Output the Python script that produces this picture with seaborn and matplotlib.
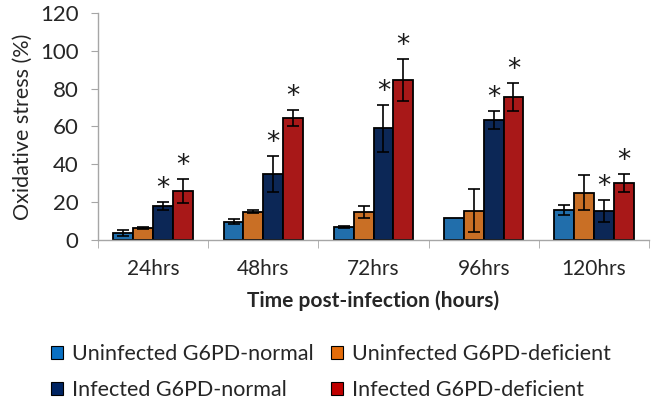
import pandas as pd
import matplotlib
matplotlib.use("Agg")
import matplotlib.pyplot as plt
import seaborn as sns
from matplotlib.patches import Patch

# datos
tiempos = ['24hrs', '48hrs', '72hrs', '96hrs', '120hrs']
grupos = ['Uninfected G6PD-normal', 'Uninfected G6PD-deficient',
          'Infected G6PD-normal', 'Infected G6PD-deficient']

unif_normal = [3.7, 9.7, 7.0, 11.8, 15.9]
unif_defic = [6.5, 15.0, 14.8, 15.5, 25.0]
inf_normal = [18.1, 34.7, 59.0, 63.5, 15.3]
inf_defic = [26.0, 64.5, 84.6, 75.5, 30.2]

err_unif_normal = [1.5, 1.2, 0.4, 0.0, 2.6]
err_unif_defic = [0.6, 0.6, 3.2, 11.5, 9.4]
err_inf_normal = [2.0, 9.5, 12.3, 4.6, 5.6]
err_inf_defic = [6.2, 4.2, 11.0, 7.4, 4.6]

sig_unif_normal = [False] * 5
sig_unif_defic = [False] * 5
sig_inf_normal = [True, True, True, True, True]
sig_inf_defic = [True, True, True, True, True]

colores = ['#0A70C2', '#E46C0A', '#002462', '#C00000']

valores = [unif_normal, unif_defic, inf_normal, inf_defic]
errores = [err_unif_normal, err_unif_defic, err_inf_normal, err_inf_defic]
signif = [sig_unif_normal, sig_unif_defic, sig_inf_normal, sig_inf_defic]

filas = []
for g, vals in zip(grupos, valores):
    for t, v in zip(tiempos, vals):
        filas.append({'Tiempo': t, 'Grupo': g, 'Valor': v})
df = pd.DataFrame(filas)

sns.set_style("white")
plt.rcParams['font.family'] = ['Lato', 'DejaVu Sans']

fig = plt.figure(figsize=(6.55, 4.04), dpi=100)
ax = fig.add_axes([98 / 655, 164 / 404, 551 / 655, 227 / 404])

sns.barplot(data=df, x='Tiempo', y='Valor', hue='Grupo', order=tiempos,
            hue_order=grupos, palette=colores, width=0.72, errorbar=None,
            edgecolor='black', linewidth=1.3, legend=False, ax=ax)

for cont, errs, sigs in zip(ax.containers, errores, signif):
    for barra, e, s in zip(cont, errs, sigs):
        xc = barra.get_x() + barra.get_width() / 2
        h = barra.get_height()
        if e > 0:
            ax.errorbar(xc, h, yerr=e, color='black', capsize=4,
                        elinewidth=1.2, capthick=1.2, zorder=5)
        if s:
            ax.annotate('*', (xc, h + e), xytext=(0, 0), textcoords='offset points',
                        ha='center', va='bottom', fontsize=19, color='#1a1a1a',
                        family='DejaVu Sans')

ax.set_ylim(0, 120)
ax.set_xlim(-0.5, 4.5)
ax.set_yticks(range(0, 121, 20))
ax.set_xticks([x - 0.5 for x in range(6)], minor=True)

gris = '#A6A6A6'
for lado in ['top', 'right']:
    ax.spines[lado].set_visible(False)
for lado in ['left', 'bottom']:
    ax.spines[lado].set_color(gris)
    ax.spines[lado].set_linewidth(1.0)

ax.tick_params(axis='y', which='major', direction='out', length=5, color=gris,
               labelsize=16, pad=9, left=True)
ax.tick_params(axis='x', which='major', length=0, labelsize=15, pad=14)
ax.tick_params(axis='x', which='minor', direction='out', length=6, color=gris,
               bottom=True)

ax.set_ylabel('Oxidative stress (%)', fontsize=15.5, labelpad=5)
ax.set_xlabel('Time post-infection (hours)', fontsize=15, fontweight='bold', labelpad=8)

# orden por filas como en el original
orden = [0, 2, 1, 3]
manejadores = [Patch(facecolor=colores[i], edgecolor='black', linewidth=0.8) for i in orden]
etiquetas = [grupos[i] for i in orden]
fig.legend(manejadores, etiquetas, loc='center', bbox_to_anchor=(0.505, 1 - 372 / 404),
           ncol=2, frameon=False, fontsize=15.5, handlelength=0.58, handleheight=0.58,
           handletextpad=0.4, columnspacing=0.8, labelspacing=0.75)

fig.savefig('out.png', dpi=100)
plt.close(fig)
